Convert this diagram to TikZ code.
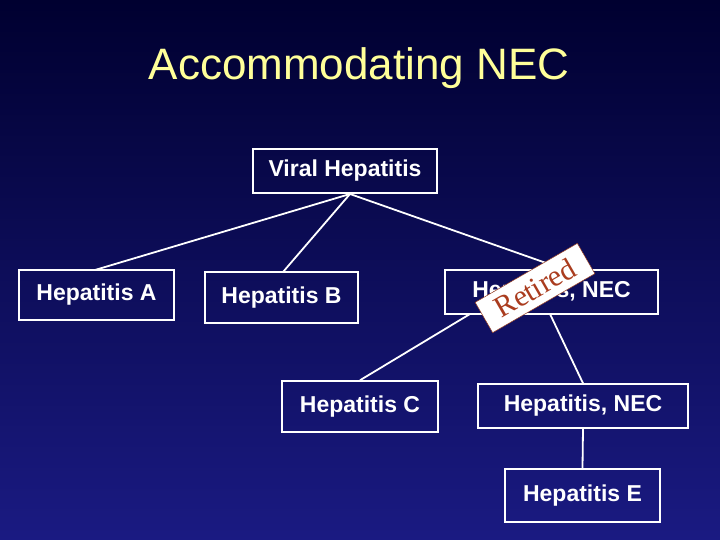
\documentclass[tikz,border=0pt]{standalone}
\usepackage{fontspec}
\setmainfont{Liberation Sans}
\newfontfamily\serifr{Liberation Serif}
\begin{document}
\begin{tikzpicture}[x=1pt,y=-1pt,
  bx/.style={draw=white,line width=1.5pt,text=white,font=\fontsize{23}{26}\selectfont\bfseries,inner sep=0pt},
  ln/.style={white,line width=1.8pt}]
\useasboundingbox (0,0) rectangle (720,540);
\shade[top color={rgb,255:red,0;green,0;blue,48},bottom color={rgb,255:red,26;green,26;blue,130}] (0,0) rectangle (720,540);
\node[text={rgb,255:red,255;green,255;blue,153},font=\fontsize{44}{50}\selectfont] (t) at (359,68) {Accommodating NEC};
\node[bx,minimum width=184pt,minimum height=44pt] (v) at (345,171) {Viral Hepatitis};
\node[bx,minimum width=155pt,minimum height=50pt] (a) at (96.5,295) {Hepatitis A};
\node[bx,minimum width=153pt,minimum height=51pt] (b) at (281.5,297.5) {Hepatitis B};
\node[bx,minimum width=213pt,minimum height=44pt] (n) at (551.5,292) {Hepatitis, NEC};
\node[bx,minimum width=156pt,minimum height=51pt] (c) at (360,406.5) {Hepatitis C};
\node[bx,minimum width=210pt,minimum height=44pt] (n2) at (583,406) {Hepatitis, NEC};
\node[bx,minimum width=155pt,minimum height=53pt] (e) at (582.5,495.5) {Hepatitis E};
\coordinate (vb) at (350,194);
\draw[ln] (vb) -- (95,270);
\draw[ln] (vb) -- (283,272);
\draw[ln] (vb) -- (566,270);
\draw[ln] (470,314) -- (c.north);
\draw[ln] (550,314) -- (n2.north);
\draw[ln] (n2.south) -- (e.north);
\node[fill=white,draw={rgb,255:red,150;green,60;blue,30},line width=0.5pt,rotate=30,minimum width=118pt,minimum height=35pt,inner sep=0pt,text={rgb,255:red,170;green,60;blue,30},font=\serifr\fontsize{30}{32}\selectfont] (r) at (535,288) {Retired};
\end{tikzpicture}
\end{document}
